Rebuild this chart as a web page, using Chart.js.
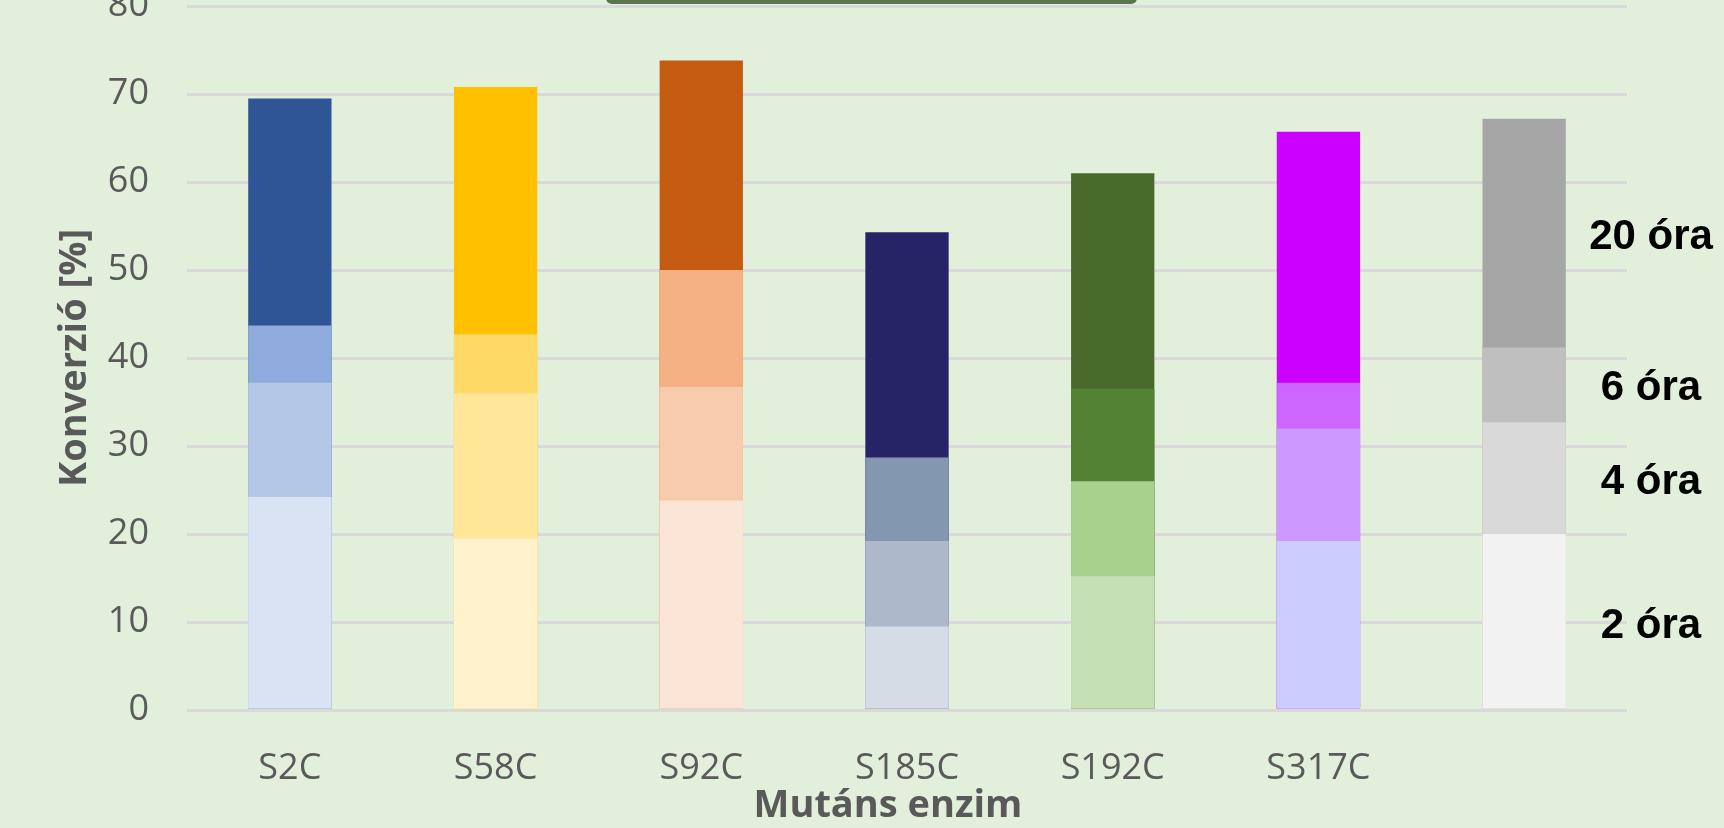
<!DOCTYPE html>
<html>
<head>
<meta charset="utf-8">
<script src="https://cdn.jsdelivr.net/npm/chart.js@4"></script>
<style>
  body { margin: 0; background: #e2efda; overflow: hidden; }
  #wrap { position: relative; width: 1724px; height: 828px; }
</style>
</head>
<body>
<div id="wrap"><canvas id="conv-chart" width="1724" height="828"></canvas></div>
<script>
// categories (mutant enzymes); the last bar is only the colour key
let mutants = ["S2C", "S58C", "S92C", "S185C", "S192C", "S317C", ""];
let yTicks = [0, 10, 20, 30, 40, 50, 60, 70, 80];

// conversion [%] reached after each reaction time (cumulative)
let conv2h  = [24.2, 19.5, 23.8,  9.5, 15.2, 19.2, 20.0];
let conv4h  = [37.2, 36.0, 36.7, 19.2, 26.0, 32.0, 32.7];
let conv6h  = [43.7, 42.7, 50.0, 28.7, 36.5, 37.2, 41.2];
let conv20h = [69.5, 70.8, 73.8, 54.3, 61.0, 65.7, 67.2];

let timeLabels = ["2 óra", "4 óra", "6 óra", "20 óra"];
let xTitle = "Mutáns enzim";

// one colour per bar, light -> dark with time
let col2h  = ["#dae3f3", "#fff2cc", "#fbe5d6", "#d6dce5", "#c5e0b4", "#ccccff", "#f2f2f2"];
let col4h  = ["#b4c7e7", "#ffe699", "#f8cbad", "#adb9ca", "#a9d18e", "#cc99ff", "#d9d9d9"];
let col6h  = ["#8faadc", "#ffd966", "#f4b183", "#8497b0", "#548235", "#cc66ff", "#bfbfbf"];
let col20h = ["#2f5597", "#ffc000", "#c55a11", "#262466", "#486b2c", "#cc00ff", "#a6a6a6"];

let grey = "#595959";

// background + the cut-off title box at the top edge
let backdrop = {
    id: "backdrop",
    beforeDraw(chart) {
        let ctx = chart.ctx;
        ctx.save();
        ctx.fillStyle = "#e2efda";
        ctx.fillRect(0, 0, chart.width, chart.height);
        ctx.fillStyle = "#5b7553";
        ctx.beginPath();
        ctx.roundRect(606, -12, 531, 16, 6);
        ctx.fill();
        ctx.restore();
    }
};

// "x óra" labels next to the key bar, centred on each segment,
// and the x axis title (sits a bit left of the plot centre in the original)
let extraText = {
    id: "extraText",
    afterDatasetsDraw(chart) {
        let ctx = chart.ctx;
        let area = chart.chartArea;
        let last = mutants.length - 1;
        let prevY = chart.scales.y.getPixelForValue(0);
        ctx.save();
        ctx.font = "bold 42px 'Liberation Sans', Arial, sans-serif";
        ctx.fillStyle = "#000000";
        ctx.textAlign = "center";
        ctx.textBaseline = "middle";
        for (let i = 0; i < chart.data.datasets.length; i++) {
            let el = chart.getDatasetMeta(i).data[last];
            ctx.fillText(chart.data.datasets[i].label, area.right + 24, (el.y + prevY) / 2 + 4);
            prevY = el.y;
        }
        ctx.font = "bold 38px 'Open Sans'";
        ctx.fillStyle = grey;
        ctx.fillText(xTitle, (area.left + area.right) / 2 - 19, 806);
        ctx.restore();
    }
};

let series = [conv2h, conv4h, conv6h, conv20h];
let colours = [col2h, col4h, col6h, col20h];

let config = {
    type: "bar",
    data: {
        labels: mutants,
        // first dataset is drawn on top, so the shortest (2 h) comes first
        datasets: series.map((vals, i) => ({
            label: timeLabels[i],
            data: vals,
            backgroundColor: colours[i],
            borderWidth: 0,
            barPercentage: 0.405,
            categoryPercentage: 1
        }))
    },
    options: {
        responsive: false,
        animation: false,
        devicePixelRatio: 1,
        layout: { padding: { left: 0, top: 6, right: 97, bottom: 0 } },
        plugins: {
            legend: { display: false },
            tooltip: { enabled: false }
        },
        scales: {
            x: {
                stacked: true,
                grid: { display: false, drawTicks: false },
                border: { display: false },
                ticks: {
                    padding: 37,
                    color: grey,
                    font: { family: "'Open Sans'", size: 36 }
                },
                afterFit(scale) { scale.height = 118; }
            },
            y: {
                stacked: false,
                min: 0,
                max: 80,
                afterBuildTicks(scale) { scale.ticks = yTicks.map(v => ({ value: v })); },
                grid: { color: "#d9d9d9", lineWidth: 3, drawTicks: false },
                border: { display: false },
                ticks: {
                    padding: 38,
                    color: grey,
                    font: { family: "'Open Sans'", size: 36 }
                },
                title: {
                    display: true,
                    text: "Konverzió [%]",
                    color: grey,
                    padding: { top: 52, bottom: 0 },
                    font: { family: "'Open Sans'", size: 38, weight: "bold" }
                },
                afterFit(scale) {
                    scale.width = 187;
                    scale.paddingTop = 0;
                    scale.paddingBottom = 0;
                }
            }
        }
    },
    plugins: [backdrop, extraText]
};

let convChart = new Chart(document.getElementById("conv-chart"), config);
</script>
</body>
</html>
